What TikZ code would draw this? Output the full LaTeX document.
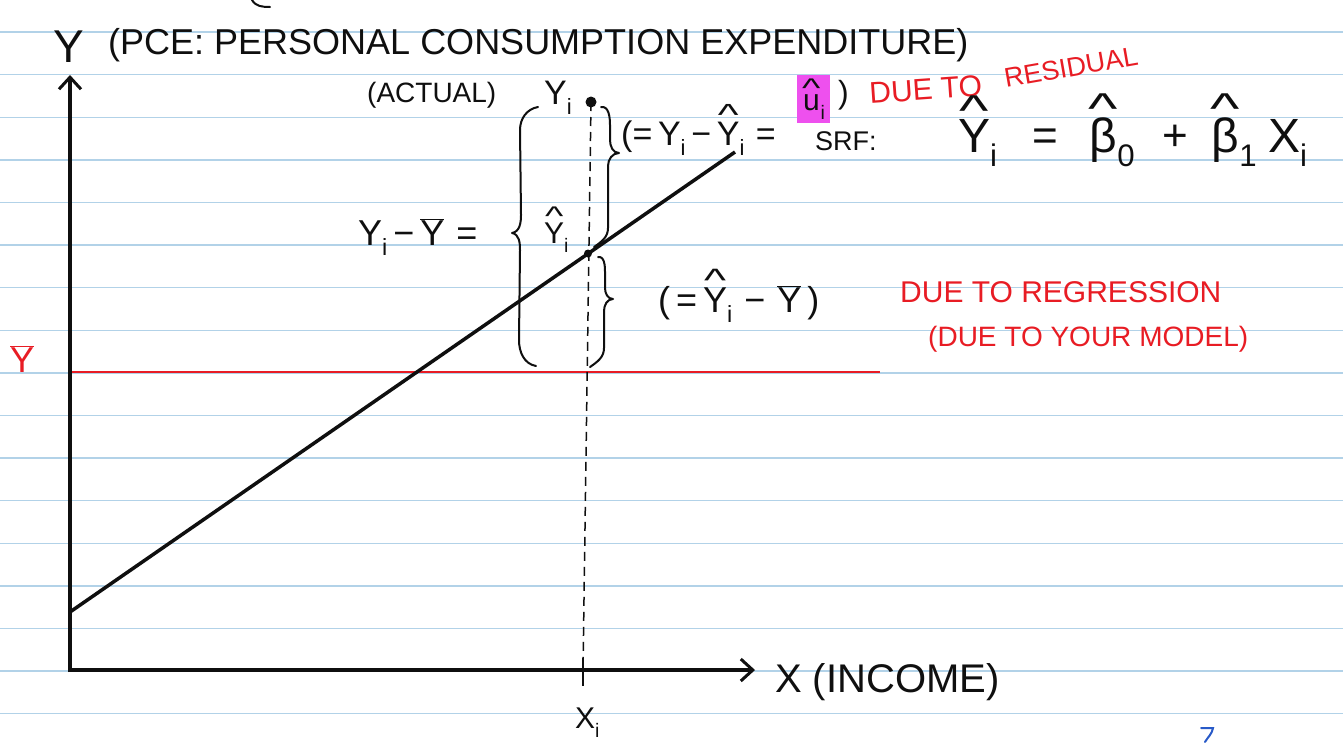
\documentclass[tikz,border=0pt]{standalone}
\usepackage{graphicx}
\usepackage{fontspec}
\setmainfont{Liberation Sans}
\usetikzlibrary{arrows.meta}
\newcommand\sbi[1]{\raisebox{-0.3em}{\scalebox{0.65}{#1}}}
\newcommand\fs[1]{\fontsize{#1}{#1}\selectfont}
\newcommand\hatt[1]{\shortstack{\scalebox{1.3}[0.9]{\textasciicircum}\\[-0.2em]#1}}
\newcommand\barr[1]{$\overline{\mbox{#1}}$}
\definecolor{ink}{RGB}{15,15,15}
\definecolor{pen}{RGB}{232,28,36}
\definecolor{nb}{RGB}{178,210,232}
\definecolor{hl}{RGB}{238,80,238}
\definecolor{bl}{RGB}{40,90,200}
\tikzset{
  txt/.style={inner sep=0pt, anchor=base west, text=ink},
  rtxt/.style={txt, text=pen},
  nbline/.style={draw=nb, line width=1.4pt},
  axis/.style={draw=ink, line width=3.5pt, -{Straight Barb[length=12pt,width=22pt,line width=3pt]}},
  regline/.style={draw=ink, line width=3.5pt},
  meanline/.style={draw=pen, line width=1.6pt},
  bracestroke/.style={draw=ink, line width=2pt, line cap=round, line join=round},
  dashline/.style={draw=ink, line width=1.5pt, dash pattern=on 9pt off 6pt},
}
\begin{document}
\begin{tikzpicture}[x=1pt,y=-1pt]
\useasboundingbox (0,0) rectangle (1343,742);
\fill[white] (0,0) rectangle (1343,742);
% notebook lines
\foreach \k in {0,...,16} {
  \draw[nbline] (0,{32+42.6*\k}) -- (1343,{32+42.6*\k});
}
% key coordinates
\coordinate (O) at (70,670);
\coordinate (ytop) at (70,75);
\coordinate (xend) at (755,670);
\coordinate (r0) at (70,612);
\coordinate (r1) at (735,152);
\coordinate (m0) at (70,372);
\coordinate (m1) at (880,372);
\coordinate (yi) at (591,102);
\coordinate (yhat) at (588,253.5);
\coordinate (xi) at (583,670);
% lines
\draw[meanline] (m0) -- (m1);
\draw[regline] (r0) -- (r1);
\draw[axis] (70,672) -- (ytop);
\draw[axis] (68.25,670) -- (xend);
\draw[dashline] (yi) -- (xi);
\draw[ink, line width=2pt] (583,658) -- (583,686);
\fill[ink] (yi) circle (5.5pt);
\fill[ink] (yhat) circle (4pt);
% braces
\draw[bracestroke] (538,107) to[out=190,in=90] (520,130) -- (521,215)
  to[out=-90,in=10] (512,233) to[out=-10,in=90] (520,250) -- (519,340)
  to[out=-90,in=170] (536,366);
\draw[bracestroke] (601,107) to[out=10,in=90] (610,125) -- (610,140)
  to[out=-90,in=180] (619,153) to[out=180,in=90] (608,166) -- (608,228)
  to[out=-90,in=35] (594,247);
\draw[bracestroke] (598,257) to[out=10,in=90] (605,272) -- (605,288)
  to[out=-90,in=180] (613,299) to[out=180,in=90] (604,311) -- (604,348)
  to[out=-90,in=35] (590,367);
% top stray stroke
\draw[bracestroke] (252,0) to[out=-60,in=180] (270,7);
% texts
\node[txt] (ylab) at (53,62) {\fs{46}Y};
\node[txt] (title) at (108,54) {\fs{36}(PCE: PERSONAL CONSUMPTION EXPENDITURE)};
\node[txt] (actual) at (367,102) {\fs{28}(ACTUAL)};
\node[txt] (yilab) at (544,104) {\fs{34}Y\sbi{i}};
\node[txt] (resid) at (621,145) {\fs{34}(=\,Y\sbi{i}\,−\,\hatt{Y}\sbi{i}\,\,=};
\node[txt, fill=hl, inner xsep=5pt, inner ysep=4pt] (uhat) at (797,110) {\fs{30}\hatt{u}\sbi{i}};
\node[txt] (rpar) at (838,103) {\fs{32})};
\node[rtxt, rotate=4] (dueto) at (870,104) {\fs{30}DUE TO};
\node[rtxt, rotate=10] (residual) at (1006,88) {\fs{27}RESIDUAL};
\node[txt] (srf) at (815,150) {\fs{27}SRF:};
\node[txt] (srfy) at (958,152) {\fs{48}\hatt{Y}\sbi{i}};
\node[txt] (srfeq) at (1032,150) {\fs{44}=};
\node[txt] (srfb0) at (1088,152) {\fs{48}\hatt{β}\sbi{0}};
\node[txt] (srfplus) at (1162,150) {\fs{44}+};
\node[txt] (srfb1) at (1210,152) {\fs{48}\hatt{β}\sbi{1}};
\node[txt] (srfx) at (1268,152) {\fs{48}X\sbi{i}};
\node[txt] (total) at (358,245) {\fs{36}Y\sbi{i}\,−\,\barr{Y}\,\,=};
\node[txt] (yhatlab) at (544,243) {\fs{30}\hatt{Y}\sbi{i}};
\node[txt] (expl) at (658,312) {\fs{36}(\,=\,\hatt{Y}\sbi{i}\,\,−\,\,\barr{Y}\,)};
\node[rtxt] (duereg) at (900,302) {\fs{30}DUE TO REGRESSION};
\node[rtxt] (duemodel) at (928,346) {\fs{28}(DUE TO YOUR MODEL)};
\node[rtxt] (ybar) at (10,372) {\fs{36}\barr{Y}};
\node[txt] (xlab) at (775,692) {\fs{40}X (INCOME)};
\node[txt] (xilab) at (575,728) {\fs{30}X\sbi{i}};
% blue mark
\draw[draw=bl, line width=2pt, line cap=round] (1201,728) -- (1213,728) to[out=-100,in=60] (1205,742);
\end{tikzpicture}
\end{document}
